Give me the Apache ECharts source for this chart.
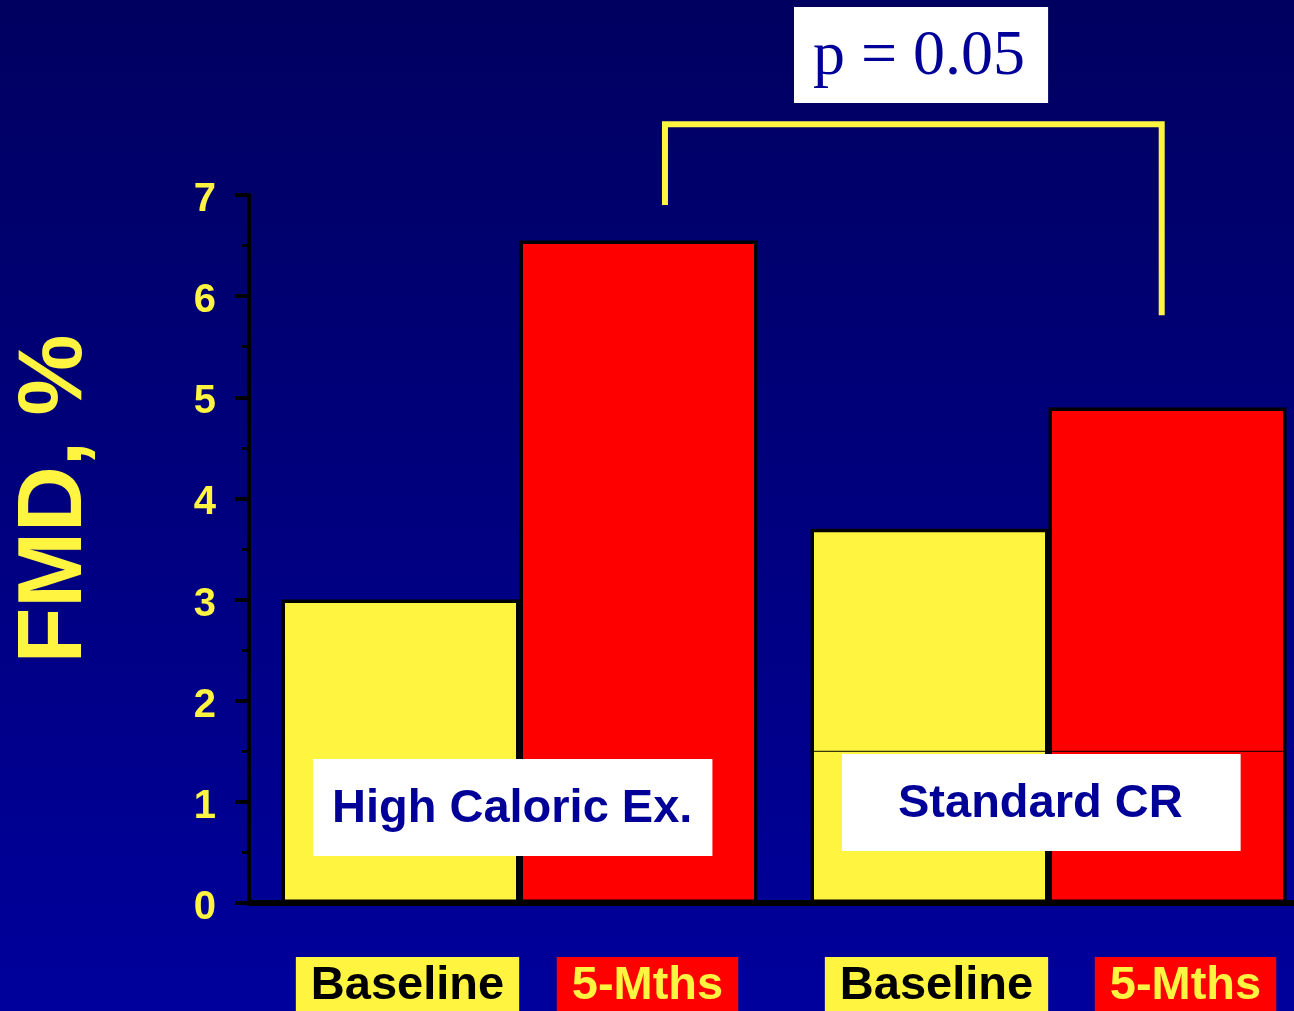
<!DOCTYPE html>
<html>
<head>
<meta charset="utf-8">
<title>FMD, %</title>
<script src="https://cdn.jsdelivr.net/npm/echarts@6/dist/echarts.min.js"></script>
<style>
  html, body { margin: 0; padding: 0; background: #000080; }
  #main { width: 1294px; height: 1011px; }
</style>
</head>
<body>
<div id="main"></div>
<script>
// Groups and their two measurements (flow-mediated dilation, %)
const groups = ['High Caloric Ex.', 'Standard CR'];
const seriesNames = ['Baseline', '5-Mths'];
const baselineFMD = [3.0, 3.7];
const fiveMonthFMD = [6.55, 4.9];

// Value axis range and step
const yMin = 0;
const yMax = 7;
const yStep = 1;

// Significance bracket between the two 5-month bars (x in category units, y in FMD %)
const pValueText = 'p = 0.05';
const bracketPath = [[0.775, 6.9], [0.775, 7.7], [1.714, 7.7], [1.714, 5.81]];

// Thin segment line drawn across the Standard CR bars
const dividerPath = [[1.05, 1.5], [1.95, 1.5]];

// Horizontal nudges of the bottom name tags
const baselineTagShift = [7, 7];
const monthTagShift = [9, 18];

const YELLOW = '#fff440';
const RED = '#ff0000';
const NAVY = '#000099';
const SANS = 'Liberation Sans, Arial, sans-serif';
const SERIF = 'Liberation Serif, Times New Roman, serif';

const tagStyle = {
  show: true,
  position: 'bottom',
  distance: 54,
  formatter: '{a}',
  fontFamily: SANS,
  fontWeight: 'bold',
  fontSize: 47,
  lineHeight: 47,
  padding: [6, 15, 20, 15]
};

const chart = echarts.init(document.getElementById('main'), null, { renderer: 'canvas' });

chart.setOption({
  animation: false,
  backgroundColor: {
    type: 'linear', x: 0, y: 0, x2: 0, y2: 1,
    colorStops: [
      { offset: 0, color: '#000060' },
      { offset: 1, color: '#00009c' }
    ]
  },
  title: [
    {
      text: pValueText,
      left: 794, top: 7,
      backgroundColor: '#ffffff',
      padding: [18, 23, 14, 19],
      textStyle: { fontFamily: SERIF, fontWeight: 'normal', fontSize: 64, lineHeight: 64, color: NAVY }
    },
    {
      text: groups[0],
      left: 313, top: 759,
      backgroundColor: '#ffffff',
      padding: [27, 20, 23, 19],
      textStyle: { fontFamily: SANS, fontWeight: 'bold', fontSize: 47, lineHeight: 47, color: NAVY }
    },
    {
      text: groups[1],
      left: 842, top: 754,
      backgroundColor: '#ffffff',
      padding: [27, 58, 23, 56],
      textStyle: { fontFamily: SANS, fontWeight: 'bold', fontSize: 47, lineHeight: 47, color: NAVY }
    }
  ],
  grid: [
    { left: 249, top: 195, bottom: 108, right: 0, outerBoundsMode: 'none' },
    { left: 255, top: 195, bottom: 108, width: 1058, outerBoundsMode: 'none' }
  ],
  xAxis: [
    {
      gridIndex: 0, type: 'value', min: 0, max: 1,
      axisLine: { show: true, lineStyle: { color: '#000', width: 6 } },
      axisTick: { show: false }, axisLabel: { show: false }, splitLine: { show: false }
    },
    { gridIndex: 1, type: 'category', data: groups, show: false },
    { gridIndex: 1, type: 'value', min: 0, max: groups.length, show: false }
  ],
  yAxis: [
    {
      gridIndex: 0, type: 'value', min: yMin, max: yMax, interval: yStep,
      name: 'FMD, %',
      nameLocation: 'middle',
      nameRotate: 90,
      nameGap: 148,
      nameTextStyle: {
        fontFamily: SANS, fontWeight: 'bold', fontSize: 91, lineHeight: 91,
        color: YELLOW, padding: [0, 0, 0, 100]
      },
      axisLine: { show: true, lineStyle: { color: '#000', width: 4 } },
      axisTick: { show: true, length: 14, lineStyle: { color: '#000', width: 4 } },
      minorTick: { show: true, splitNumber: 2, length: 7, lineStyle: { color: '#000', width: 3 } },
      axisLabel: {
        margin: 33,
        formatter: (v) => '{n|' + v + '}',
        rich: {
          n: {
            color: YELLOW, fontFamily: SANS, fontWeight: 'bold', fontSize: 40, lineHeight: 40,
            padding: [10, 0, 0, 0]
          }
        }
      },
      splitLine: { show: false }
    },
    { gridIndex: 1, type: 'value', min: yMin, max: yMax, show: false }
  ],
  series: [
    {
      name: seriesNames[0],
      type: 'bar',
      xAxisIndex: 1, yAxisIndex: 1,
      barWidth: 238,
      barGap: '0%',
      data: baselineFMD.map((v, i) => ({ value: v, label: { offset: [baselineTagShift[i], 0] } })),
      itemStyle: { color: YELLOW, borderColor: '#000', borderWidth: 3.5 },
      label: Object.assign({}, tagStyle, { color: '#000', backgroundColor: YELLOW })
    },
    {
      name: seriesNames[1],
      type: 'bar',
      xAxisIndex: 1, yAxisIndex: 1,
      barWidth: 238,
      barGap: '0%',
      data: fiveMonthFMD.map((v, i) => ({ value: v, label: { offset: [monthTagShift[i], 0] } })),
      itemStyle: { color: RED, borderColor: '#000', borderWidth: 3.5 },
      label: Object.assign({}, tagStyle, { color: YELLOW, backgroundColor: RED })
    },
    {
      name: 'divider',
      type: 'line',
      xAxisIndex: 2, yAxisIndex: 1,
      data: dividerPath,
      symbol: 'none',
      silent: true,
      lineStyle: { color: '#000', width: 1 }
    },
    {
      name: 'bracket',
      type: 'line',
      xAxisIndex: 2, yAxisIndex: 1,
      data: bracketPath,
      symbol: 'none',
      clip: false,
      silent: true,
      lineStyle: { color: YELLOW, width: 6, join: 'miter', cap: 'butt' }
    }
  ]
});
</script>
</body>
</html>
